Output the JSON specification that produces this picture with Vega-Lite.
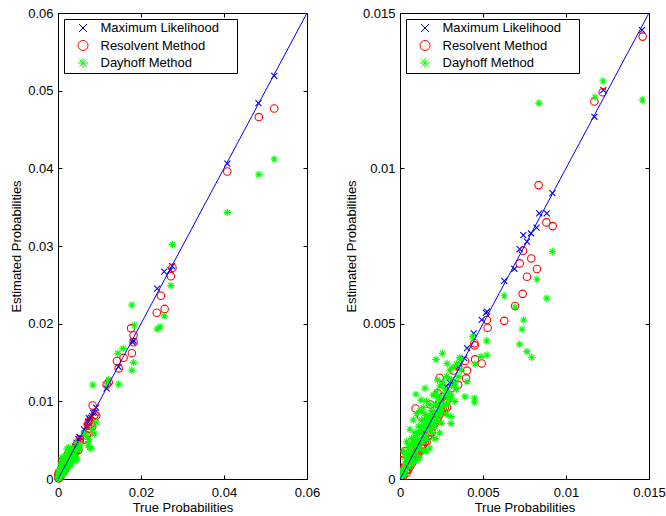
{
  "$schema": "https://vega.github.io/schema/vega-lite/v6.json",
  "background": "white",
  "padding": {"left": 10, "top": 6, "right": 2, "bottom": 2},
  "bounds": "flush",
  "spacing": 93,
  "config": {
    "font": "Liberation Sans",
    "view": {"stroke": "black", "strokeWidth": 1},
    "axis": {
      "domainColor": "black", "tickColor": "black", "labelColor": "black", "titleColor": "black",
      "labelFont": "Liberation Sans", "titleFont": "Liberation Sans",
      "labelFontSize": 13, "titleFontSize": 13, "titleFontWeight": "normal",
      "grid": false, "tickSize": -4, "format": ".3~g", "labelFlush": false, "labelOverlap": false
    },
    "axisBottom": {"labelPadding": 11, "titlePadding": 2},
    "axisLeft": {"labelPadding": 9, "titlePadding": 4},
    "legend": {
      "orient": "top-left", "offset": 6, "strokeColor": "black", "fillColor": "white",
      "padding": 2.5, "rowPadding": 2.5, "labelFontSize": 13, "labelFont": "Liberation Sans",
      "labelColor": "black", "symbolOffset": 10, "labelOffset": 11, "symbolStrokeWidth": 1,
      "labelLimit": 300, "titleOrient": "right", "titleColor": "rgba(0,0,0,0)",
      "titleFontSize": 13, "titleFontWeight": "normal", "titlePadding": 5
    }
  },
  "datasets": {
    "pts": [
      {"t":0.0521,"e":0.0519,"m":"ML"},{"t":0.0483,"e":0.0484,"m":"ML"},{"t":0.0408,"e":0.0406,"m":"ML"},
      {"t":0.0275,"e":0.0274,"m":"ML"},{"t":0.0271,"e":0.0269,"m":"ML"},{"t":0.0256,"e":0.0267,"m":"ML"},
      {"t":0.0239,"e":0.0245,"m":"ML"},{"t":0.0182,"e":0.0178,"m":"ML"},{"t":0.0180,"e":0.0176,"m":"ML"},
      {"t":0.01458,"e":0.01445,"m":"ML"},{"t":0.01225,"e":0.01252,"m":"ML"},{"t":0.01171,"e":0.01166,"m":"ML"},
      {"t":0.00918,"e":0.0092,"m":"ML"},{"t":0.00884,"e":0.00855,"m":"ML"},{"t":0.00839,"e":0.00855,"m":"ML"},
      {"t":0.00823,"e":0.00809,"m":"ML"},{"t":0.00789,"e":0.00791,"m":"ML"},{"t":0.00743,"e":0.00785,"m":"ML"},
      {"t":0.00765,"e":0.00764,"m":"ML"},{"t":0.00721,"e":0.0074,"m":"ML"},{"t":0.00689,"e":0.00676,"m":"ML"},
      {"t":0.00628,"e":0.00638,"m":"ML"},{"t":0.00524,"e":0.00539,"m":"ML"},{"t":0.00518,"e":0.00535,"m":"ML"},
      {"t":0.00492,"e":0.00512,"m":"ML"},{"t":0.00444,"e":0.00469,"m":"ML"},{"t":0.00404,"e":0.00421,"m":"ML"},
      {"t":0.00387,"e":0.00389,"m":"ML"},{"t":0.00277,"e":0.00297,"m":"ML"},{"t":0.0035,"e":0.0036,"m":"ML"},
      {"t":0.0032,"e":0.0031,"m":"ML"},{"t":0.0030,"e":0.0031,"m":"ML"},{"t":0.0025,"e":0.0025,"m":"ML"},
      {"t":0.0023,"e":0.0024,"m":"ML"},{"t":0.0020,"e":0.0021,"m":"ML"},{"t":0.0018,"e":0.0017,"m":"ML"},
      {"t":0.0016,"e":0.0016,"m":"ML"},{"t":0.0014,"e":0.0015,"m":"ML"},{"t":0.0012,"e":0.0012,"m":"ML"},
      {"t":0.0010,"e":0.0010,"m":"ML"},{"t":0.0008,"e":0.0008,"m":"ML"},{"t":0.0006,"e":0.0006,"m":"ML"},
      {"t":0.0004,"e":0.0004,"m":"ML"},{"t":0.0002,"e":0.0002,"m":"ML"},{"t":0.0001,"e":0.0001,"m":"ML"},

      {"t":0.0521,"e":0.0477,"m":"RM"},{"t":0.0484,"e":0.0466,"m":"RM"},{"t":0.0408,"e":0.0396,"m":"RM"},
      {"t":0.0276,"e":0.0272,"m":"RM"},{"t":0.0272,"e":0.0261,"m":"RM"},{"t":0.0248,"e":0.0236,"m":"RM"},
      {"t":0.0238,"e":0.0214,"m":"RM"},{"t":0.0257,"e":0.0219,"m":"RM"},{"t":0.0176,"e":0.0194,"m":"RM"},
      {"t":0.0182,"e":0.0185,"m":"RM"},{"t":0.0182,"e":0.0176,"m":"RM"},{"t":0.0178,"e":0.0162,"m":"RM"},
      {"t":0.0142,"e":0.0152,"m":"RM"},{"t":0.0158,"e":0.0156,"m":"RM"},
      {"t":0.01462,"e":0.01424,"m":"RM"},{"t":0.01221,"e":0.01245,"m":"RM"},{"t":0.01171,"e":0.01215,"m":"RM"},
      {"t":0.00835,"e":0.00946,"m":"RM"},{"t":0.00882,"e":0.00826,"m":"RM"},{"t":0.0092,"e":0.00814,"m":"RM"},
      {"t":0.00741,"e":0.00735,"m":"RM"},{"t":0.00791,"e":0.0071,"m":"RM"},{"t":0.00721,"e":0.00694,"m":"RM"},
      {"t":0.00825,"e":0.00676,"m":"RM"},{"t":0.00765,"e":0.00651,"m":"RM"},{"t":0.00739,"e":0.00596,"m":"RM"},
      {"t":0.00693,"e":0.00557,"m":"RM"},{"t":0.00628,"e":0.00509,"m":"RM"},{"t":0.00524,"e":0.00512,"m":"RM"},
      {"t":0.00528,"e":0.00487,"m":"RM"},{"t":0.00448,"e":0.00437,"m":"RM"},{"t":0.0045,"e":0.0043,"m":"RM"},
      {"t":0.00452,"e":0.00385,"m":"RM"},{"t":0.00492,"e":0.00372,"m":"RM"},{"t":0.00392,"e":0.0038,"m":"RM"},
      {"t":0.00351,"e":0.00362,"m":"RM"},{"t":0.00323,"e":0.00349,"m":"RM"},{"t":0.00404,"e":0.00349,"m":"RM"},
      {"t":0.00398,"e":0.00324,"m":"RM"},{"t":0.00351,"e":0.00303,"m":"RM"},{"t":0.00239,"e":0.00326,"m":"RM"},
      {"t":0.00227,"e":0.00276,"m":"RM"},{"t":0.00094,"e":0.00227,"m":"RM"},{"t":0.00127,"e":0.00201,"m":"RM"},
      {"t":0.00183,"e":0.0024,"m":"RM"},{"t":0.00283,"e":0.0023,"m":"RM"},{"t":0.00257,"e":0.00265,"m":"RM"},
      {"t":0.00307,"e":0.00292,"m":"RM"},{"t":0.0028,"e":0.0025,"m":"RM"},{"t":0.0026,"e":0.0022,"m":"RM"},
      {"t":0.0024,"e":0.0021,"m":"RM"},{"t":0.0022,"e":0.0019,"m":"RM"},{"t":0.0020,"e":0.0017,"m":"RM"},
      {"t":0.0019,"e":0.0018,"m":"RM"},{"t":0.0017,"e":0.0014,"m":"RM"},{"t":0.0016,"e":0.0015,"m":"RM"},
      {"t":0.0015,"e":0.0012,"m":"RM"},{"t":0.0013,"e":0.0011,"m":"RM"},{"t":0.0012,"e":0.0012,"m":"RM"},
      {"t":0.0011,"e":0.0009,"m":"RM"},{"t":0.0010,"e":0.0008,"m":"RM"},{"t":0.0009,"e":0.0009,"m":"RM"},
      {"t":0.0008,"e":0.0006,"m":"RM"},{"t":0.0007,"e":0.0007,"m":"RM"},{"t":0.0006,"e":0.0005,"m":"RM"},
      {"t":0.0005,"e":0.0005,"m":"RM"},{"t":0.0004,"e":0.0003,"m":"RM"},{"t":0.0003,"e":0.0004,"m":"RM"},
      {"t":0.0002,"e":0.0002,"m":"RM"},{"t":0.0001,"e":0.0001,"m":"RM"},{"t":0.00005,"e":0.0003,"m":"RM"},
      {"t":0.0001,"e":0.0006,"m":"RM"},{"t":0.0002,"e":0.0008,"m":"RM"},{"t":0.0003,"e":0.0009,"m":"RM"},
      {"t":0.0002,"e":0.0001,"m":"RM"},{"t":0.0004,"e":0.0002,"m":"RM"},{"t":0.0005,"e":0.0003,"m":"RM"},
      {"t":0.0006,"e":0.0004,"m":"RM"},{"t":0.0007,"e":0.0005,"m":"RM"},{"t":0.0008,"e":0.0007,"m":"RM"},
      {"t":0.0009,"e":0.0007,"m":"RM"},{"t":0.0010,"e":0.0009,"m":"RM"},{"t":0.0011,"e":0.0008,"m":"RM"},
      {"t":0.0012,"e":0.0009,"m":"RM"},{"t":0.0013,"e":0.0010,"m":"RM"},{"t":0.0014,"e":0.0011,"m":"RM"},
      {"t":0.0015,"e":0.0013,"m":"RM"},{"t":0.0016,"e":0.0012,"m":"RM"},{"t":0.0017,"e":0.0015,"m":"RM"},
      {"t":0.0018,"e":0.0014,"m":"RM"},{"t":0.0019,"e":0.0015,"m":"RM"},{"t":0.0021,"e":0.0018,"m":"RM"},
      {"t":0.0023,"e":0.0020,"m":"RM"},{"t":0.0025,"e":0.0022,"m":"RM"},{"t":0.0027,"e":0.0023,"m":"RM"},

      {"t":0.0521,"e":0.0412,"m":"DM"},{"t":0.0484,"e":0.0392,"m":"DM"},{"t":0.0408,"e":0.0343,"m":"DM"},
      {"t":0.0276,"e":0.0302,"m":"DM"},{"t":0.0272,"e":0.0249,"m":"DM"},{"t":0.0256,"e":0.0210,"m":"DM"},
      {"t":0.0246,"e":0.0196,"m":"DM"},{"t":0.0239,"e":0.0193,"m":"DM"},{"t":0.0178,"e":0.0224,"m":"DM"},
      {"t":0.0184,"e":0.0198,"m":"DM"},{"t":0.0182,"e":0.0150,"m":"DM"},{"t":0.0178,"e":0.0140,"m":"DM"},
      {"t":0.0144,"e":0.0162,"m":"DM"},{"t":0.0157,"e":0.0168,"m":"DM"},
      {"t":0.0146,"e":0.0122,"m":"DM"},{"t":0.01223,"e":0.01281,"m":"DM"},{"t":0.01175,"e":0.01229,"m":"DM"},
      {"t":0.00837,"e":0.0121,"m":"DM"},{"t":0.00918,"e":0.00732,"m":"DM"},{"t":0.00825,"e":0.00643,"m":"DM"},
      {"t":0.00884,"e":0.00582,"m":"DM"},{"t":0.00628,"e":0.0059,"m":"DM"},{"t":0.00693,"e":0.00553,"m":"DM"},
      {"t":0.00745,"e":0.00512,"m":"DM"},{"t":0.00735,"e":0.00482,"m":"DM"},{"t":0.00721,"e":0.00434,"m":"DM"},
      {"t":0.00765,"e":0.0041,"m":"DM"},{"t":0.00793,"e":0.00392,"m":"DM"},{"t":0.00522,"e":0.00445,"m":"DM"},
      {"t":0.00524,"e":0.00399,"m":"DM"},{"t":0.00488,"e":0.00394,"m":"DM"},{"t":0.00452,"e":0.0037,"m":"DM"},
      {"t":0.00438,"e":0.00458,"m":"DM"},{"t":0.00255,"e":0.00405,"m":"DM"},{"t":0.00217,"e":0.00385,"m":"DM"},
      {"t":0.00283,"e":0.00372,"m":"DM"},{"t":0.00367,"e":0.00385,"m":"DM"},{"t":0.00392,"e":0.00265,"m":"DM"},
      {"t":0.00448,"e":0.0026,"m":"DM"},{"t":0.00448,"e":0.00247,"m":"DM"},{"t":0.00096,"e":0.00273,"m":"DM"},
      {"t":0.00151,"e":0.00292,"m":"DM"},{"t":0.00127,"e":0.00254,"m":"DM"},{"t":0.00307,"e":0.00201,"m":"DM"},
      {"t":0.00307,"e":0.00179,"m":"DM"},{"t":0.00239,"e":0.00149,"m":"DM"},{"t":0.00404,"e":0.00313,"m":"DM"},
      {"t":0.00227,"e":0.00319,"m":"DM"},{"t":0.00241,"e":0.00222,"m":"DM"},
      {"t":0.0034,"e":0.0029,"m":"DM"},{"t":0.0031,"e":0.0027,"m":"DM"},{"t":0.0029,"e":0.0026,"m":"DM"},
      {"t":0.0027,"e":0.0024,"m":"DM"},{"t":0.0025,"e":0.0023,"m":"DM"},{"t":0.0023,"e":0.0021,"m":"DM"},
      {"t":0.0021,"e":0.0019,"m":"DM"},{"t":0.0019,"e":0.0018,"m":"DM"},{"t":0.0017,"e":0.0016,"m":"DM"},
      {"t":0.0015,"e":0.0014,"m":"DM"},{"t":0.0013,"e":0.0013,"m":"DM"},{"t":0.0011,"e":0.0012,"m":"DM"},
      {"t":0.0009,"e":0.0011,"m":"DM"},{"t":0.0007,"e":0.0009,"m":"DM"},{"t":0.0005,"e":0.0007,"m":"DM"},
      {"t":0.0003,"e":0.0005,"m":"DM"},{"t":0.0002,"e":0.0003,"m":"DM"},{"t":0.0001,"e":0.0002,"m":"DM"},
      {"t":0.00005,"e":0.0001,"m":"DM"},{"t":0.0006,"e":0.0016,"m":"DM"},{"t":0.0008,"e":0.0019,"m":"DM"},
      {"t":0.0010,"e":0.0021,"m":"DM"},{"t":0.0004,"e":0.0012,"m":"DM"},{"t":0.0002,"e":0.0009,"m":"DM"},
      {"t":0.0012,"e":0.0022,"m":"DM"},{"t":0.0014,"e":0.0023,"m":"DM"},{"t":0.0016,"e":0.0025,"m":"DM"},
      {"t":0.0018,"e":0.0024,"m":"DM"},{"t":0.0020,"e":0.0027,"m":"DM"},{"t":0.0022,"e":0.0028,"m":"DM"},
      {"t":0.0024,"e":0.0030,"m":"DM"},{"t":0.0026,"e":0.0031,"m":"DM"},{"t":0.0028,"e":0.0033,"m":"DM"},
      {"t":0.0030,"e":0.0035,"m":"DM"},{"t":0.0032,"e":0.0036,"m":"DM"},{"t":0.0034,"e":0.0037,"m":"DM"},
      {"t":0.0036,"e":0.0039,"m":"DM"},{"t":0.0021,"e":0.0013,"m":"DM"},{"t":0.0018,"e":0.0010,"m":"DM"},
      {"t":0.0016,"e":0.0009,"m":"DM"},{"t":0.0014,"e":0.0009,"m":"DM"},{"t":0.0012,"e":0.0007,"m":"DM"},
      {"t":0.0010,"e":0.0006,"m":"DM"},{"t":0.0008,"e":0.0005,"m":"DM"},{"t":0.0025,"e":0.0018,"m":"DM"},
      {"t":0.0028,"e":0.0021,"m":"DM"},{"t":0.0033,"e":0.0025,"m":"DM"},{"t":0.0013,"e":0.0017,"m":"DM"},
      {"t":0.0011,"e":0.0015,"m":"DM"},{"t":0.0017,"e":0.0020,"m":"DM"},{"t":0.0023,"e":0.0026,"m":"DM"},
      {"t":0.0007,"e":0.0013,"m":"DM"},{"t":0.0009,"e":0.0015,"m":"DM"},{"t":0.0003,"e":0.0007,"m":"DM"},
      {"t":0.0015,"e":0.0019,"m":"DM"},{"t":0.0019,"e":0.0022,"m":"DM"},{"t":0.0027,"e":0.0029,"m":"DM"},
      {"t":0.0031,"e":0.0032,"m":"DM"},
      {"t":0.0001,"e":0.0003,"m":"DM"},{"t":0.0002,"e":0.0001,"m":"DM"},{"t":0.0003,"e":0.0002,"m":"DM"},
      {"t":0.0003,"e":0.0003,"m":"DM"},{"t":0.0004,"e":0.0005,"m":"DM"},{"t":0.0004,"e":0.0008,"m":"DM"},
      {"t":0.0005,"e":0.0004,"m":"DM"},{"t":0.0005,"e":0.0010,"m":"DM"},{"t":0.0006,"e":0.0006,"m":"DM"},
      {"t":0.0006,"e":0.0011,"m":"DM"},{"t":0.0007,"e":0.0006,"m":"DM"},{"t":0.0007,"e":0.0011,"m":"DM"},
      {"t":0.0008,"e":0.0008,"m":"DM"},{"t":0.0008,"e":0.0012,"m":"DM"},{"t":0.0009,"e":0.0008,"m":"DM"},
      {"t":0.0009,"e":0.0013,"m":"DM"},{"t":0.0010,"e":0.0010,"m":"DM"},{"t":0.0010,"e":0.0014,"m":"DM"},
      {"t":0.0011,"e":0.0010,"m":"DM"},{"t":0.0011,"e":0.0017,"m":"DM"},{"t":0.0012,"e":0.0010,"m":"DM"},
      {"t":0.0012,"e":0.0015,"m":"DM"},{"t":0.0013,"e":0.0012,"m":"DM"},{"t":0.0013,"e":0.0019,"m":"DM"},
      {"t":0.0014,"e":0.0012,"m":"DM"},{"t":0.0014,"e":0.0017,"m":"DM"},{"t":0.0015,"e":0.0016,"m":"DM"},
      {"t":0.0015,"e":0.0021,"m":"DM"},{"t":0.0016,"e":0.0013,"m":"DM"},{"t":0.0016,"e":0.0018,"m":"DM"},
      {"t":0.0017,"e":0.0018,"m":"DM"},{"t":0.0018,"e":0.0016,"m":"DM"},{"t":0.0018,"e":0.0020,"m":"DM"},
      {"t":0.0019,"e":0.0015,"m":"DM"},{"t":0.0020,"e":0.0019,"m":"DM"},{"t":0.0020,"e":0.0022,"m":"DM"},
      {"t":0.0021,"e":0.0017,"m":"DM"},{"t":0.0022,"e":0.0021,"m":"DM"},{"t":0.0022,"e":0.0024,"m":"DM"},
      {"t":0.0023,"e":0.0019,"m":"DM"},{"t":0.0024,"e":0.0022,"m":"DM"},{"t":0.0024,"e":0.0026,"m":"DM"},
      {"t":0.0025,"e":0.0021,"m":"DM"},{"t":0.0026,"e":0.0024,"m":"DM"},{"t":0.0027,"e":0.0027,"m":"DM"},
      {"t":0.0028,"e":0.0024,"m":"DM"},{"t":0.0029,"e":0.0028,"m":"DM"},{"t":0.0030,"e":0.0026,"m":"DM"},
      {"t":0.0031,"e":0.0030,"m":"DM"},{"t":0.0033,"e":0.0031,"m":"DM"},{"t":0.0035,"e":0.0033,"m":"DM"},
      {"t":0.0037,"e":0.0035,"m":"DM"}
    ]
  },
  "resolve": {"scale": {"x": "independent", "y": "independent", "color": "independent", "shape": "independent"}},
  "hconcat": [
    {
      "width": 249, "height": 466,
      "layer": [
        {
          "data": {"name": "pts"},
          "mark": {"type": "point", "filled": false, "size": 56, "strokeWidth": 1.1, "opacity": 1},
          "encoding": {
            "x": {"field": "t", "type": "quantitative", "title": "True Probabilities",
                  "scale": {"domain": [0, 0.06], "nice": false},
                  "axis": {"values": [0, 0.02, 0.04, 0.06]}},
            "y": {"field": "e", "type": "quantitative", "title": "Estimated Probabilities",
                  "scale": {"domain": [0, 0.06], "nice": false},
                  "axis": {"values": [0, 0.01, 0.02, 0.03, 0.04, 0.05, 0.06]}},
            "color": {"field": "m", "type": "nominal",
                      "scale": {"domain": ["ML", "RM", "DM"], "range": ["#0000ff", "#ff0000", "#00ff00"]},
                      "legend": {"title": "M", "labelFontSize": 13, "labelExpr": "datum.label == 'ML' ? 'Maximum Likelihood' : datum.label == 'RM' ? 'Resolvent Method' : 'Dayhoff Method'"}},
            "shape": {"field": "m", "type": "nominal",
                      "scale": {"domain": ["ML", "RM", "DM"], "range": ["M-0.8,-0.8L0.8,0.8M-0.8,0.8L0.8,-0.8", "circle", "M-1,0L1,0M0,-1L0,1M-0.7,-0.7L0.7,0.7M-0.7,0.7L0.7,-0.7"]},
                      "legend": {"title": "M", "labelFontSize": 13, "labelExpr": "datum.label == 'ML' ? 'Maximum Likelihood' : datum.label == 'RM' ? 'Resolvent Method' : 'Dayhoff Method'"}}
          }
        },
        {
          "data": {"values": [{"t": 0, "e": 0}, {"t": 0.06, "e": 0.06}]},
          "mark": {"type": "line", "color": "#0000ff", "strokeWidth": 1},
          "encoding": {
            "x": {"field": "t", "type": "quantitative", "axis": {"orient": "top", "labels": false, "title": null, "values": [0, 0.02, 0.04, 0.06]}},
            "y": {"field": "e", "type": "quantitative", "axis": {"orient": "right", "labels": false, "title": null, "values": [0, 0.01, 0.02, 0.03, 0.04, 0.05, 0.06]}}
          }
        }
      ],
      "resolve": {"axis": {"x": "independent", "y": "independent"}}
    },
    {
      "width": 249, "height": 466,
      "layer": [
        {
          "data": {"name": "pts"},
          "mark": {"type": "point", "filled": false, "size": 56, "strokeWidth": 1.1, "opacity": 1, "clip": true},
          "encoding": {
            "x": {"field": "t", "type": "quantitative", "title": "True Probabilities",
                  "scale": {"domain": [0, 0.015], "nice": false},
                  "axis": {"values": [0, 0.005, 0.01, 0.015]}},
            "y": {"field": "e", "type": "quantitative", "title": "Estimated Probabilities",
                  "scale": {"domain": [0, 0.015], "nice": false},
                  "axis": {"values": [0, 0.005, 0.01, 0.015]}},
            "color": {"field": "m", "type": "nominal",
                      "scale": {"domain": ["ML", "RM", "DM"], "range": ["#0000ff", "#ff0000", "#00ff00"]},
                      "legend": {"title": "M", "labelFontSize": 13, "labelExpr": "datum.label == 'ML' ? 'Maximum Likelihood' : datum.label == 'RM' ? 'Resolvent Method' : 'Dayhoff Method'"}},
            "shape": {"field": "m", "type": "nominal",
                      "scale": {"domain": ["ML", "RM", "DM"], "range": ["M-0.8,-0.8L0.8,0.8M-0.8,0.8L0.8,-0.8", "circle", "M-1,0L1,0M0,-1L0,1M-0.7,-0.7L0.7,0.7M-0.7,0.7L0.7,-0.7"]},
                      "legend": {"title": "M", "labelFontSize": 13, "labelExpr": "datum.label == 'ML' ? 'Maximum Likelihood' : datum.label == 'RM' ? 'Resolvent Method' : 'Dayhoff Method'"}}
          }
        },
        {
          "data": {"values": [{"t": 0, "e": 0}, {"t": 0.015, "e": 0.015}]},
          "mark": {"type": "line", "color": "#0000ff", "strokeWidth": 1},
          "encoding": {
            "x": {"field": "t", "type": "quantitative", "axis": {"orient": "top", "labels": false, "title": null, "values": [0, 0.005, 0.01, 0.015]}},
            "y": {"field": "e", "type": "quantitative", "axis": {"orient": "right", "labels": false, "title": null, "values": [0, 0.005, 0.01, 0.015]}}
          }
        }
      ],
      "resolve": {"axis": {"x": "independent", "y": "independent"}}
    }
  ]
}
